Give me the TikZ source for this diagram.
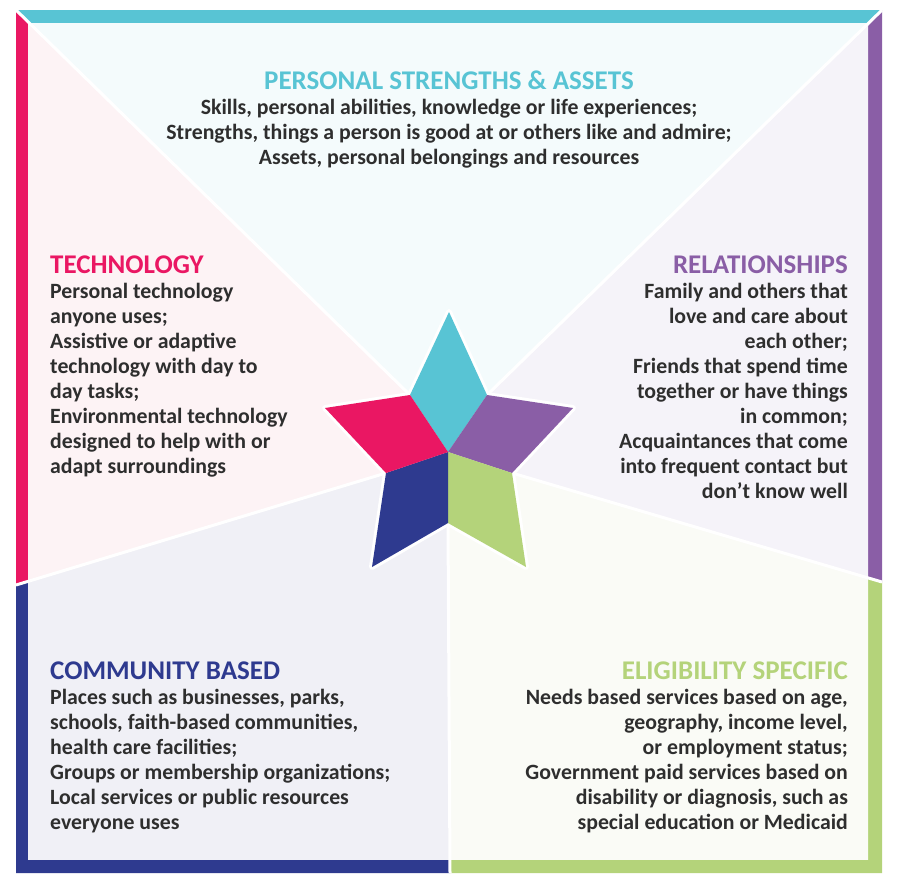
\documentclass[tikz,border=0pt]{standalone}
\usepackage{fontspec}
\setmainfont{Carlito}
\usetikzlibrary{calc}
\definecolor{cyanS}{HTML}{58C4D4}
\definecolor{pinkS}{HTML}{EA1763}
\definecolor{purpS}{HTML}{8A5EA6}
\definecolor{navyS}{HTML}{2E3A8F}
\definecolor{greenS}{HTML}{B4D37A}
\definecolor{cyanT}{HTML}{F4FBFC}
\definecolor{pinkT}{HTML}{FDF3F5}
\definecolor{purpT}{HTML}{F5F3F9}
\definecolor{navyT}{HTML}{F0F0F6}
\definecolor{greenT}{HTML}{FAFBF6}
\definecolor{bodyC}{HTML}{2E2E2E}
\tikzset{
  divider/.style={white, line width=3pt},
  halo/.style={white, line width=6pt, line join=round},
  ttl/.style={inner sep=0pt, font=\fontsize{27}{30}\selectfont\bfseries},
  bodytext/.style={inner sep=0pt, text=bodyC, font=\fontsize{21.8}{25}\selectfont\bfseries},
}
\begin{document}
\begin{tikzpicture}[x=1pt,y=-1pt]
\useasboundingbox (0,0) rectangle (901,894);
% frame points
\coordinate (TLc) at (16,10);
\coordinate (TRc) at (882,10);
\coordinate (BRc) at (882,873);
\coordinate (BLc) at (16,873);
\coordinate (Lm) at (16,585);
\coordinate (Rm) at (882,582);
\coordinate (Bm) at (450,873);
% star points
\coordinate (C) at (448,452);
\coordinate (T) at (449,312);
\coordinate (L) at (325,408);
\coordinate (Rt) at (573,408);
\coordinate (BL) at (372,567);
\coordinate (BR) at (526,567);
\coordinate (iTL) at (410,395);
\coordinate (iTR) at (487,395);
\coordinate (iL) at (386,473);
\coordinate (iR) at (512,473);
\coordinate (iB) at (448,523);
% coloured edge bars
\begin{scope}
\clip (16,10) rectangle (882,873);
\fill[cyanS] (TLc)--(TRc)--(iTR)--(C)--(iTL)--cycle;
\fill[purpS] (TRc)--(Rm)--(iR)--(C)--(iTR)--cycle;
\fill[greenS] (Rm)--(BRc)--(Bm)--(iB)--(C)--(iR)--cycle;
\fill[navyS] (Bm)--(BLc)--(Lm)--(iL)--(C)--(iB)--cycle;
\fill[pinkS] (Lm)--(TLc)--(iTL)--(C)--(iL)--cycle;
\end{scope}
% tinted sectors
\begin{scope}
\clip (28,23) rectangle (868,859);
\fill[cyanT] (TLc)--(TRc)--(iTR)--(C)--(iTL)--cycle;
\fill[purpT] (TRc)--(Rm)--(iR)--(C)--(iTR)--cycle;
\fill[greenT] (Rm)--(BRc)--(Bm)--(iB)--(C)--(iR)--cycle;
\fill[navyT] (Bm)--(BLc)--(Lm)--(iL)--(C)--(iB)--cycle;
\fill[pinkT] (Lm)--(TLc)--(iTL)--(C)--(iL)--cycle;
\end{scope}
% dividers
\draw[divider] (iTL)--(TLc);
\draw[divider] (iTR)--(TRc);
\draw[divider] (iR)--(Rm);
\draw[divider] (iB)--(Bm);
\draw[divider] (iL)--(Lm);
% star
\draw[halo] (T)--(iTR)--(Rt)--(iR)--(BR)--(iB)--(BL)--(iL)--(L)--(iTL)--cycle;
\fill[cyanS] (C)--(iTL)--(T)--(iTR)--cycle;
\fill[purpS] (C)--(iTR)--(Rt)--(iR)--cycle;
\fill[greenS] (C)--(iR)--(BR)--(iB)--cycle;
\fill[navyS] (C)--(iB)--(BL)--(iL)--cycle;
\fill[pinkS] (C)--(iL)--(L)--(iTL)--cycle;
% texts
\node[ttl, text=cyanS, anchor=base] (psaT) at (449,89) {PERSONAL STRENGTHS \& ASSETS};
\foreach \s [count=\i] in {{Skills, personal abilities, knowledge or life experiences;},{Strengths, things a person is good at or others like and admire;},{Assets, personal belongings and resources}}
  \node[bodytext, anchor=base] (psa\i) at (449,{89+25.3*\i}) {\s};
\node[ttl, text=pinkS, anchor=base west] (techT) at (50,273) {TECHNOLOGY};
\foreach \s [count=\i] in {{Personal technology},{anyone uses;},{Assistive or adaptive},{technology with day to},{day tasks;},{Environmental technology},{designed to help with or},{adapt surroundings}}
  \node[bodytext, anchor=base west] (tech\i) at (50,{273+25.1*\i}) {\s};
\node[ttl, text=purpS, anchor=base east] (relT) at (848,273) {RELATIONSHIPS};
\foreach \s [count=\i] in {{Family and others that},{love and care about},{each other;},{Friends that spend time},{together or have things},{in common;},{Acquaintances that come},{into frequent contact but},{don’t know well}}
  \node[bodytext, anchor=base east] (rel\i) at (848,{273+25.1*\i}) {\s};
\node[ttl, text=navyS, anchor=base west] (comT) at (50,679) {COMMUNITY BASED};
\foreach \s [count=\i] in {{Places such as businesses, parks,},{schools, faith-based communities,},{health care facilities;},{Groups or membership organizations;},{Local services or public resources},{everyone uses}}
  \node[bodytext, anchor=base west] (com\i) at (50,{679+25*\i}) {\s};
\node[ttl, text=greenS, anchor=base east] (eligT) at (848,679) {ELIGIBILITY SPECIFIC};
\foreach \s [count=\i] in {{Needs based services based on age,},{geography, income level,},{or employment status;},{Government paid services based on},{disability or diagnosis, such as},{special education or Medicaid}}
  \node[bodytext, anchor=base east] (elig\i) at (848,{679+25*\i}) {\s};
\end{tikzpicture}
\end{document}
